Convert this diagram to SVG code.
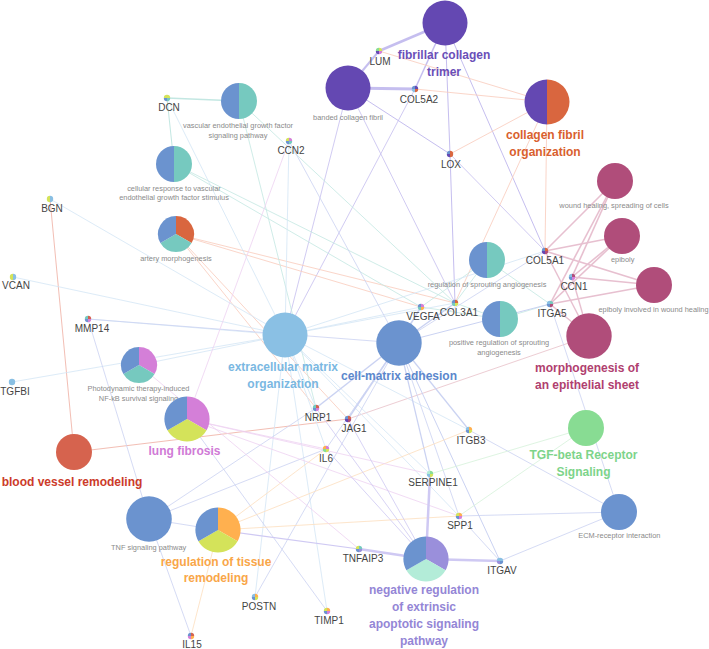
<svg xmlns="http://www.w3.org/2000/svg" xmlns:xlink="http://www.w3.org/1999/xlink" width="709" height="649" viewBox="0 0 709 649">
<style>
.big{font-family:"Liberation Sans",Arial,sans-serif;font-weight:bold;font-size:12px;text-anchor:middle}
.gene{font-family:"Liberation Sans",Arial,sans-serif;font-size:10px;fill:#444;text-anchor:middle}
.term{font-family:"Liberation Sans",Arial,sans-serif;font-size:7.4px;fill:#8a8a8a;text-anchor:middle}
#edges{opacity:0.72}
#edges line{fill:none;stroke-width:0.8}
.pu{stroke:#b0a6ea}.or{stroke:#f7b7a2}.rd{stroke:#ea8f7e}.pr{stroke:#e0a8b4}.mg{stroke:#dfa8be}.tl{stroke:#addfd8}.lb{stroke:#c4ddf3}.bl{stroke:#b7c2ee}.gr{stroke:#c6edcd}.yo{stroke:#fcd3a6}.pk{stroke:#e8c2ee}.nv{stroke:#bdb5ef}
</style>
<defs>
<path id="q1" d="M0,0V-3.2A3.2,3.2 0 0 1 3.2,0Z"/>
<path id="q2" d="M0,0H3.2A3.2,3.2 0 0 1 0,3.2Z"/>
<path id="q3" d="M0,0V3.2A3.2,3.2 0 0 1 -3.2,0Z"/>
<path id="q4" d="M0,0H-3.2A3.2,3.2 0 0 1 0,-3.2Z"/>
<path id="hl18" d="M0,-18A18,18 0 0 0 0,18Z"/>
<path id="hr18" d="M0,-18A18,18 0 0 1 0,18Z"/>
<path id="a18" d="M0,0L0,-18A18,18 0 0 1 15.59,9Z"/>
<path id="b18" d="M0,0L15.59,9A18,18 0 0 1 -15.59,9Z"/>
<path id="c18" d="M0,0L-15.59,9A18,18 0 0 1 0,-18Z"/>
<path id="a22" d="M0,0L0,-22.6A22.6,22.6 0 0 1 19.57,11.3Z"/>
<path id="b22" d="M0,0L19.57,11.3A22.6,22.6 0 0 1 -19.57,11.3Z"/>
<path id="c22" d="M0,0L-19.57,11.3A22.6,22.6 0 0 1 0,-22.6Z"/>
</defs>
<rect width="709" height="649" fill="#fff"/>
<g id="edges">
<line class="pu" x1="445" y1="23" x2="379" y2="51" style="stroke-width:2.5"/>
<line class="pu" x1="445" y1="23" x2="415" y2="89" style="stroke-width:1.5"/>
<line class="pu" x1="445" y1="23" x2="450" y2="154" style="stroke-width:1"/>
<line class="pu" x1="445" y1="23" x2="545" y2="251" style="stroke-width:1"/>
<line class="pu" x1="348" y1="88" x2="379" y2="51" style="stroke-width:2"/>
<line class="pu" x1="348" y1="88" x2="415" y2="89" style="stroke-width:3"/>
<line class="pu" x1="348" y1="88" x2="450" y2="154" style="stroke-width:1"/>
<line class="pu" x1="348" y1="88" x2="455" y2="303"/>
<line class="pu" x1="348" y1="88" x2="285" y2="335"/>
<line class="pu" x1="415" y1="89" x2="285" y2="335"/>
<line class="pu" x1="450" y1="154" x2="455" y2="303" style="stroke-width:1"/>
<line class="pu" x1="450" y1="154" x2="545" y2="251"/>
<line class="or" x1="547" y1="102" x2="379" y2="51"/>
<line class="or" x1="547" y1="102" x2="415" y2="89"/>
<line class="or" x1="547" y1="102" x2="450" y2="154"/>
<line class="or" x1="547" y1="102" x2="545" y2="251"/>
<line class="or" x1="547" y1="102" x2="455" y2="303"/>
<line class="or" x1="176" y1="234" x2="421" y2="307"/>
<line class="or" x1="176" y1="234" x2="455" y2="303"/>
<line class="or" x1="176" y1="234" x2="316" y2="408"/>
<line class="or" x1="176" y1="234" x2="348" y2="419"/>
<line class="rd" x1="50" y1="199" x2="74" y2="452"/>
<line class="rd" x1="74" y1="452" x2="348" y2="419"/>
<line class="pr" x1="348" y1="419" x2="589" y2="336"/>
<line class="mg" x1="615" y1="181" x2="545" y2="251" style="stroke-width:1.6"/>
<line class="mg" x1="615" y1="181" x2="572" y2="277" style="stroke-width:1.6"/>
<line class="mg" x1="615" y1="181" x2="550" y2="304" style="stroke-width:1.6"/>
<line class="mg" x1="622" y1="236" x2="545" y2="251" style="stroke-width:1.6"/>
<line class="mg" x1="622" y1="236" x2="572" y2="277" style="stroke-width:1.6"/>
<line class="mg" x1="622" y1="236" x2="550" y2="304" style="stroke-width:1.6"/>
<line class="mg" x1="654" y1="285" x2="545" y2="251" style="stroke-width:1.6"/>
<line class="mg" x1="654" y1="285" x2="572" y2="277" style="stroke-width:1.6"/>
<line class="mg" x1="654" y1="285" x2="550" y2="304" style="stroke-width:1.6"/>
<line class="mg" x1="589" y1="336" x2="545" y2="251" style="stroke-width:1.4"/>
<line class="mg" x1="589" y1="336" x2="572" y2="277" style="stroke-width:1.4"/>
<line class="mg" x1="589" y1="336" x2="550" y2="304" style="stroke-width:1.4"/>
<line class="tl" x1="167" y1="98" x2="239" y2="101" style="stroke-width:1.5"/>
<line class="tl" x1="167" y1="98" x2="174" y2="164" style="stroke-width:1"/>
<line class="tl" x1="239" y1="101" x2="316" y2="408"/>
<line class="tl" x1="239" y1="101" x2="455" y2="303"/>
<line class="tl" x1="174" y1="164" x2="421" y2="307"/>
<line class="tl" x1="174" y1="164" x2="455" y2="303"/>
<line class="tl" x1="487" y1="260" x2="421" y2="307"/>
<line class="tl" x1="487" y1="260" x2="455" y2="303"/>
<line class="tl" x1="487" y1="260" x2="550" y2="304"/>
<line class="tl" x1="500" y1="319" x2="421" y2="307"/>
<line class="tl" x1="500" y1="319" x2="455" y2="303"/>
<line class="tl" x1="500" y1="319" x2="550" y2="304"/>
<line class="lb" x1="285" y1="335" x2="88" y2="319"/>
<line class="lb" x1="285" y1="335" x2="13" y2="277"/>
<line class="lb" x1="285" y1="335" x2="50" y2="199"/>
<line class="lb" x1="285" y1="335" x2="12" y2="382"/>
<line class="lb" x1="285" y1="335" x2="167" y2="98"/>
<line class="lb" x1="285" y1="335" x2="289" y2="141"/>
<line class="lb" x1="285" y1="335" x2="545" y2="251"/>
<line class="lb" x1="285" y1="335" x2="455" y2="303"/>
<line class="lb" x1="285" y1="335" x2="421" y2="307"/>
<line class="lb" x1="285" y1="335" x2="316" y2="408"/>
<line class="lb" x1="285" y1="335" x2="430" y2="474"/>
<line class="lb" x1="285" y1="335" x2="255" y2="597"/>
<line class="lb" x1="285" y1="335" x2="327" y2="611"/>
<line class="lb" x1="285" y1="335" x2="139" y2="365"/>
<line class="lb" x1="285" y1="335" x2="469" y2="430"/>
<line class="lb" x1="285" y1="335" x2="326" y2="449"/>
<line class="lb" x1="285" y1="335" x2="459" y2="516"/>
<line class="bl" x1="399" y1="343" x2="421" y2="307" style="stroke-width:1.5"/>
<line class="bl" x1="399" y1="343" x2="455" y2="303" style="stroke-width:1.5"/>
<line class="bl" x1="399" y1="343" x2="316" y2="408" style="stroke-width:1.5"/>
<line class="bl" x1="399" y1="343" x2="348" y2="419" style="stroke-width:1.5"/>
<line class="bl" x1="399" y1="343" x2="469" y2="430" style="stroke-width:1.2"/>
<line class="bl" x1="399" y1="343" x2="430" y2="474" style="stroke-width:1.2"/>
<line class="bl" x1="399" y1="343" x2="550" y2="304" style="stroke-width:1"/>
<line class="bl" x1="399" y1="343" x2="500" y2="561" style="stroke-width:1"/>
<line class="bl" x1="399" y1="343" x2="88" y2="319"/>
<line class="bl" x1="399" y1="343" x2="289" y2="141"/>
<line class="bl" x1="399" y1="343" x2="255" y2="597"/>
<line class="bl" x1="399" y1="343" x2="459" y2="516"/>
<line class="bl" x1="399" y1="343" x2="545" y2="251"/>
<line class="bl" x1="399" y1="343" x2="326" y2="449"/>
<line class="bl" x1="149" y1="519" x2="88" y2="319"/>
<line class="bl" x1="149" y1="519" x2="191" y2="636"/>
<line class="bl" x1="149" y1="519" x2="218" y2="530"/>
<line class="bl" x1="149" y1="519" x2="326" y2="449"/>
<line class="bl" x1="149" y1="519" x2="316" y2="408"/>
<line class="bl" x1="619" y1="512" x2="469" y2="430"/>
<line class="bl" x1="619" y1="512" x2="459" y2="516"/>
<line class="bl" x1="619" y1="512" x2="500" y2="561"/>
<line class="bl" x1="619" y1="512" x2="550" y2="304"/>
<line class="bl" x1="500" y1="561" x2="459" y2="516"/>
<line class="bl" x1="187" y1="419" x2="327" y2="611"/>
<line class="gr" x1="586" y1="428" x2="430" y2="474"/>
<line class="gr" x1="586" y1="428" x2="459" y2="516"/>
<line class="yo" x1="218" y1="530" x2="191" y2="636"/>
<line class="yo" x1="218" y1="530" x2="469" y2="430"/>
<line class="yo" x1="218" y1="530" x2="459" y2="516"/>
<line class="yo" x1="218" y1="530" x2="326" y2="449"/>
<line class="pk" x1="187" y1="419" x2="326" y2="449"/>
<line class="pk" x1="187" y1="419" x2="430" y2="474"/>
<line class="pk" x1="187" y1="419" x2="459" y2="516"/>
<line class="pk" x1="187" y1="419" x2="289" y2="141"/>
<line class="pk" x1="139" y1="365" x2="359" y2="549"/>
<line class="nv" x1="218" y1="530" x2="359" y2="549" style="stroke-width:1.2"/>
<line class="nv" x1="426" y1="559" x2="359" y2="549" style="stroke-width:2.5"/>
<line class="nv" x1="426" y1="559" x2="500" y2="561" style="stroke-width:2.5"/>
<line class="nv" x1="426" y1="559" x2="430" y2="474" style="stroke-width:2.5"/>
<line class="nv" x1="426" y1="559" x2="326" y2="449"/>
<line class="nv" x1="426" y1="559" x2="348" y2="419"/>
<line class="nv" x1="426" y1="559" x2="316" y2="408"/>
</g>
<g id="fibrillar-collagen-trimer"><circle cx="445" cy="23" r="22.5" fill="#6448b2"/><text class="big" fill="#6a4fb8" x="444" y="59">fibrillar collagen</text><text class="big" fill="#6a4fb8" x="444" y="76">trimer</text></g>
<g id="banded-collagen-fibril"><circle cx="348" cy="88" r="22.5" fill="#6448b2"/><text class="term" x="348" y="120">banded collagen fibril</text></g>
<g id="collagen-fibril-organization"><g transform="translate(547,102)"><path d="M0,-22.5A22.5,22.5 0 0 0 0,22.5Z" fill="#6448b2"/><path d="M0,-22.5A22.5,22.5 0 0 1 0,22.5Z" fill="#d9663f"/></g><text class="big" fill="#d9602e" x="545" y="139">collagen fibril</text><text class="big" fill="#d9602e" x="545" y="156">organization</text></g>
<g id="vegf-signaling"><g transform="translate(239,101)"><use href="#hl18" fill="#6b93cf"/><use href="#hr18" fill="#76c9bf"/></g><text class="term" x="238" y="128">vascular endothelial growth factor</text><text class="term" x="238" y="138">signaling pathway</text></g>
<g id="cellular-response"><g transform="translate(174,164)"><use href="#hl18" fill="#6b93cf"/><use href="#hr18" fill="#76c9bf"/></g><text class="term" x="174" y="190.5">cellular response to vascular</text><text class="term" x="174" y="200">endothelial growth factor stimulus</text></g>
<g id="artery-morphogenesis"><g transform="translate(176,234)"><use href="#a18" fill="#d9663f"/><use href="#b18" fill="#76c9bf"/><use href="#c18" fill="#6b93cf"/></g><text class="term" x="176" y="260.7">artery morphogenesis</text></g>
<g id="wound-healing"><circle cx="615" cy="181" r="18" fill="#b04d7a"/><text class="term" x="614" y="207.7">wound healing, spreading of cells</text></g>
<g id="epiboly"><circle cx="622" cy="236" r="18" fill="#b04d7a"/><text class="term" x="622.7" y="261.7">epiboly</text></g>
<g id="epiboly-wound"><circle cx="654" cy="285" r="18" fill="#b04d7a"/><text class="term" x="653.5" y="312">epiboly involved in wound healing</text></g>
<g id="regulation-sprouting"><g transform="translate(487,260)"><use href="#hl18" fill="#6b93cf"/><use href="#hr18" fill="#76c9bf"/></g><text class="term" x="487" y="287">regulation of sprouting angiogenesis</text></g>
<g id="positive-regulation-sprouting"><g transform="translate(500,319)"><use href="#hl18" fill="#6b93cf"/><use href="#hr18" fill="#76c9bf"/></g><text class="term" x="499" y="345.4">positive regulation of sprouting</text><text class="term" x="499" y="355">angiogenesis</text></g>
<g id="morphogenesis-epithelial"><circle cx="589" cy="336" r="22.7" fill="#b04d7a"/><text class="big" fill="#b0406f" x="587" y="372">morphogenesis of</text><text class="big" fill="#b0406f" x="587" y="389">an epithelial sheet</text></g>
<g id="ecm-organization"><circle cx="285" cy="335" r="22.5" fill="#8ac0e4"/><text class="big" fill="#7ab8e2" x="283" y="371">extracellular matrix</text><text class="big" fill="#7ab8e2" x="283" y="388">organization</text></g>
<g id="cell-matrix-adhesion"><circle cx="399" cy="343" r="22.7" fill="#6b93cf"/><text class="big" fill="#5b87cc" x="399" y="380">cell-matrix adhesion</text></g>
<g id="photodynamic"><g transform="translate(139,365)"><use href="#a18" fill="#d47fd8"/><use href="#b18" fill="#76c9bf"/><use href="#c18" fill="#6b93cf"/></g><text class="term" x="138.5" y="391.4">Photodynamic therapy-induced</text><text class="term" x="138.5" y="401.4">NF-kB survival signaling</text></g>
<g id="lung-fibrosis"><g transform="translate(187,419)"><use href="#a22" fill="#d47fd8"/><use href="#b22" fill="#d4e35a"/><use href="#c22" fill="#6b93cf"/></g><text class="big" fill="#d07ad6" x="184.5" y="455">lung fibrosis</text></g>
<g id="blood-vessel-remodeling"><circle cx="74" cy="452" r="18" fill="#d6634e"/><text class="big" fill="#cc3b2a" x="72" y="486">blood vessel remodeling</text></g>
<g id="tgf-beta"><circle cx="586" cy="428" r="18" fill="#88dc93"/><text class="big" fill="#7dd48a" x="583.5" y="459">TGF-beta Receptor</text><text class="big" fill="#7dd48a" x="583.5" y="476">Signaling</text></g>
<g id="ecm-receptor"><circle cx="619" cy="512" r="18" fill="#6b93cf"/><text class="term" x="619.3" y="538">ECM-receptor interaction</text></g>
<g id="tnf-signaling"><circle cx="149" cy="519" r="22.8" fill="#6b93cf"/><text class="term" x="148.7" y="549.7">TNF signaling pathway</text></g>
<g id="tissue-remodeling"><g transform="translate(218,530)"><use href="#a22" fill="#ffb04f"/><use href="#b22" fill="#d4e35a"/><use href="#c22" fill="#6b93cf"/></g><text class="big" fill="#f9a648" x="216" y="566">regulation of tissue</text><text class="big" fill="#f9a648" x="216" y="582">remodeling</text></g>
<g id="negative-regulation"><g transform="translate(426,559)"><use href="#a22" fill="#9a8fdb"/><use href="#b22" fill="#b3ecd8"/><use href="#c22" fill="#6b93cf"/></g><text class="big" fill="#9486d6" x="424" y="594">negative regulation</text><text class="big" fill="#9486d6" x="424" y="611">of extrinsic</text><text class="big" fill="#9486d6" x="424" y="628">apoptotic signaling</text><text class="big" fill="#9486d6" x="424" y="645">pathway</text></g>
<g id="LUM"><g transform="translate(379,51)"><use href="#q1" fill="#d4e35a"/><use href="#q2" fill="#d47fd8"/><use href="#q3" fill="#6448b2"/><use href="#q4" fill="#88dd95"/></g><text class="gene" x="380" y="64.5">LUM</text></g>
<g id="COL5A2"><g transform="translate(415,89)"><use href="#q1" fill="#6448b2"/><use href="#q2" fill="#d9663f"/><use href="#q3" fill="#89bfe3"/><use href="#q4" fill="#6b93cf"/></g><text class="gene" x="419" y="102.5">COL5A2</text></g>
<g id="LOX"><g transform="translate(450,154)"><use href="#q1" fill="#d9663f"/><use href="#q2" fill="#d9663f"/><use href="#q3" fill="#6448b2"/><use href="#q4" fill="#6b93cf"/></g><text class="gene" x="451" y="167.5">LOX</text></g>
<g id="DCN"><g transform="translate(167,98)"><use href="#q1" fill="#d4e35a"/><use href="#q2" fill="#76c9bf"/><use href="#q3" fill="#6b93cf"/><use href="#q4" fill="#d4e35a"/></g><text class="gene" x="169" y="111">DCN</text></g>
<g id="CCN2"><g transform="translate(289,141)"><use href="#q1" fill="#d47fd8"/><use href="#q2" fill="#76c9bf"/><use href="#q3" fill="#6b93cf"/><use href="#q4" fill="#d4e35a"/></g><text class="gene" x="291" y="154">CCN2</text></g>
<g id="BGN"><g transform="translate(50,199)"><use href="#q1" fill="#89bfe3"/><use href="#q2" fill="#89bfe3"/><use href="#q3" fill="#d4e35a"/><use href="#q4" fill="#d4e35a"/></g><text class="gene" x="52" y="212">BGN</text></g>
<g id="VCAN"><g transform="translate(13,277)"><use href="#q1" fill="#89bfe3"/><use href="#q2" fill="#89bfe3"/><use href="#q3" fill="#d4e35a"/><use href="#q4" fill="#d4e35a"/></g><text class="gene" x="16" y="289">VCAN</text></g>
<g id="MMP14"><g transform="translate(88,319)"><use href="#q1" fill="#d4634f"/><use href="#q2" fill="#d47fd8"/><use href="#q3" fill="#6b93cf"/><use href="#q4" fill="#76c9bf"/></g><text class="gene" x="92" y="332">MMP14</text></g>
<g id="TGFBI"><circle cx="12" cy="382" r="3.2" fill="#89bfe3"/><text class="gene" x="15" y="394.5">TGFBI</text></g>
<g id="COL5A1"><g transform="translate(545,251)"><use href="#q1" fill="#d9663f"/><use href="#q2" fill="#b04d7a"/><use href="#q3" fill="#6448b2"/><use href="#q4" fill="#6b93cf"/></g><text class="gene" x="545" y="264">COL5A1</text></g>
<g id="CCN1"><g transform="translate(572,277)"><use href="#q1" fill="#b04d7a"/><use href="#q2" fill="#d47fd8"/><use href="#q3" fill="#6b93cf"/><use href="#q4" fill="#89bfe3"/></g><text class="gene" x="574" y="290">CCN1</text></g>
<g id="ITGA5"><g transform="translate(550,304)"><use href="#q1" fill="#76c9bf"/><use href="#q2" fill="#b04d7a"/><use href="#q3" fill="#6b93cf"/><use href="#q4" fill="#89bfe3"/></g><text class="gene" x="552" y="317">ITGA5</text></g>
<g id="VEGFA"><g transform="translate(421,307)"><use href="#q1" fill="#d47fd8"/><use href="#q2" fill="#ffb04f"/><use href="#q3" fill="#76c9bf"/><use href="#q4" fill="#6b93cf"/></g><text class="gene" x="423" y="320">VEGFA</text></g>
<g id="COL3A1"><g transform="translate(455,303)"><use href="#q1" fill="#d9663f"/><use href="#q2" fill="#d4e35a"/><use href="#q3" fill="#76c9bf"/><use href="#q4" fill="#6b93cf"/></g><text class="gene" x="459" y="315.5">COL3A1</text></g>
<g id="NRP1"><g transform="translate(316,408)"><use href="#q1" fill="#d4634f"/><use href="#q2" fill="#d47fd8"/><use href="#q3" fill="#6b93cf"/><use href="#q4" fill="#76c9bf"/></g><text class="gene" x="318" y="421">NRP1</text></g>
<g id="JAG1"><g transform="translate(348,419)"><use href="#q1" fill="#d4634f"/><use href="#q2" fill="#b04d7a"/><use href="#q3" fill="#6448b2"/><use href="#q4" fill="#6b93cf"/></g><text class="gene" x="354" y="431.5">JAG1</text></g>
<g id="IL6"><g transform="translate(326,449)"><use href="#q1" fill="#d47fd8"/><use href="#q2" fill="#d4e35a"/><use href="#q3" fill="#88dd95"/><use href="#q4" fill="#ffb04f"/></g><text class="gene" x="326" y="462">IL6</text></g>
<g id="ITGB3"><g transform="translate(469,430)"><use href="#q1" fill="#ffb04f"/><use href="#q2" fill="#d4e35a"/><use href="#q3" fill="#6b93cf"/><use href="#q4" fill="#89bfe3"/></g><text class="gene" x="471" y="443.5">ITGB3</text></g>
<g id="SERPINE1"><g transform="translate(430,474)"><use href="#q1" fill="#88dd95"/><use href="#q2" fill="#d4e35a"/><use href="#q3" fill="#89bfe3"/><use href="#q4" fill="#b3ecd8"/></g><text class="gene" x="433" y="486">SERPINE1</text></g>
<g id="SPP1"><g transform="translate(459,516)"><use href="#q1" fill="#ffb04f"/><use href="#q2" fill="#d47fd8"/><use href="#q3" fill="#6b93cf"/><use href="#q4" fill="#d4e35a"/></g><text class="gene" x="460" y="529">SPP1</text></g>
<g id="TNFAIP3"><g transform="translate(359,549)"><use href="#q1" fill="#76c9bf"/><use href="#q2" fill="#9a8fdb"/><use href="#q3" fill="#6b93cf"/><use href="#q4" fill="#d4e35a"/></g><text class="gene" x="363" y="562">TNFAIP3</text></g>
<g id="ITGAV"><g transform="translate(500,561)"><use href="#q1" fill="#89bfe3"/><use href="#q2" fill="#6b93cf"/><use href="#q3" fill="#9a8fdb"/><use href="#q4" fill="#89bfe3"/></g><text class="gene" x="502" y="574">ITGAV</text></g>
<g id="POSTN"><g transform="translate(255,597)"><use href="#q1" fill="#ffb04f"/><use href="#q2" fill="#d4e35a"/><use href="#q3" fill="#6b93cf"/><use href="#q4" fill="#89bfe3"/></g><text class="gene" x="259" y="610">POSTN</text></g>
<g id="TIMP1"><g transform="translate(327,611)"><use href="#q1" fill="#ffb04f"/><use href="#q2" fill="#d47fd8"/><use href="#q3" fill="#6b93cf"/><use href="#q4" fill="#d4e35a"/></g><text class="gene" x="329" y="624">TIMP1</text></g>
<g id="IL15"><g transform="translate(191,636)"><use href="#q1" fill="#d4634f"/><use href="#q2" fill="#ffb04f"/><use href="#q3" fill="#d47fd8"/><use href="#q4" fill="#6b93cf"/></g><text class="gene" x="192" y="648">IL15</text></g>
</svg>
